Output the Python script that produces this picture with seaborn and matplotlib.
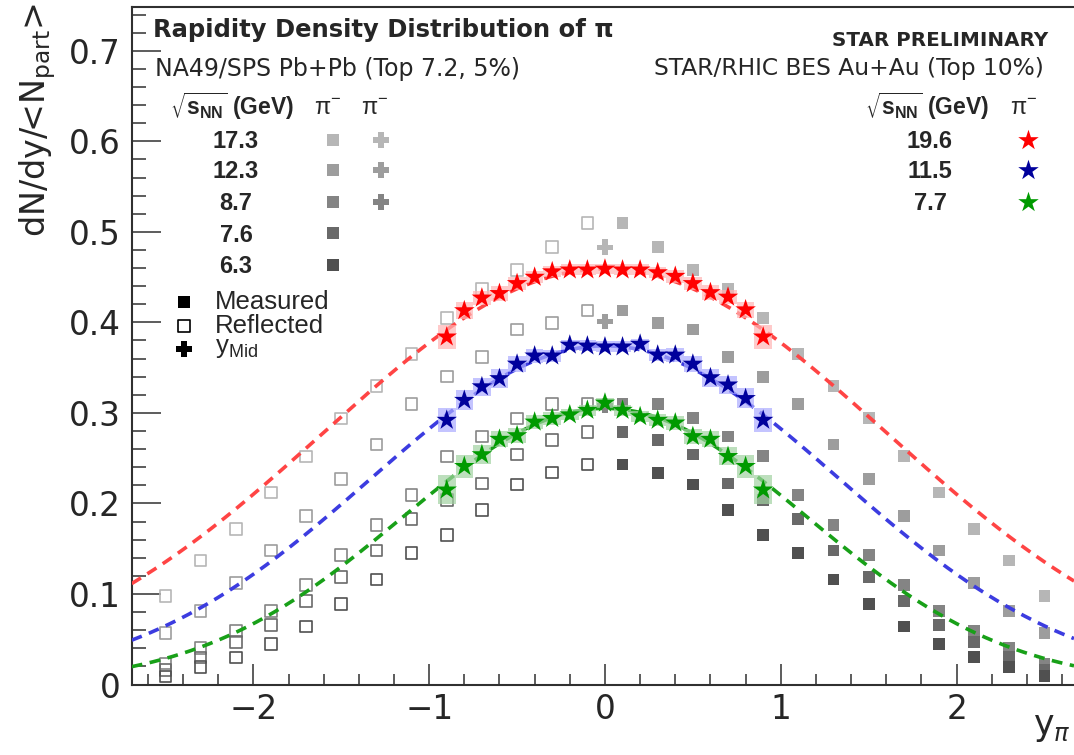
import numpy as np
import pandas as pd
import matplotlib
matplotlib.use("Agg")
import matplotlib.pyplot as plt
import seaborn as sns
from matplotlib.ticker import MultipleLocator, FuncFormatter

# ---------------- data ----------------
# NA49/SPS Pb+Pb pi- dN/dy/<Npart>, measured at forward rapidity
na49_rapidity = [0.1, 0.3, 0.5, 0.7, 0.9, 1.1, 1.3, 1.5, 1.7, 1.9, 2.1, 2.3, 2.5]
na49_energies = ["17.3", "12.3", "8.7", "7.6", "6.3"]
na49_17p3 = [0.510, 0.483, 0.458, 0.437, 0.405, 0.365, 0.330, 0.294, 0.252, 0.212, 0.172, 0.137, 0.098]
na49_12p3 = [0.413, 0.399, 0.392, 0.362, 0.340, 0.310, 0.265, 0.227, 0.186, 0.148, 0.112, 0.081, 0.057]
na49_8p7 = [0.310, 0.310, 0.294, 0.274, 0.252, 0.209, 0.176, 0.143, 0.110, 0.081, 0.059, 0.040, 0.023]
na49_7p6 = [0.279, 0.270, 0.254, 0.222, 0.204, 0.183, 0.148, 0.119, 0.092, 0.066, 0.047, 0.030, 0.016]
na49_6p3 = [0.243, 0.234, 0.221, 0.193, 0.165, 0.145, 0.116, 0.089, 0.064, 0.045, 0.030, 0.019, 0.009]

# NA49 values at mid-rapidity
na49_ymid_energies = ["17.3", "12.3", "8.7"]
na49_ymid_values = [0.483, 0.401, 0.308]

# STAR/RHIC BES Au+Au pi- dN/dy/<Npart> with systematic uncertainties
star_rapidity = [-0.9, -0.8, -0.7, -0.6, -0.5, -0.4, -0.3, -0.2, -0.1, 0.0,
                 0.1, 0.2, 0.3, 0.4, 0.5, 0.6, 0.7, 0.8, 0.9]
star_energies = ["19.6", "11.5", "7.7"]
star_19p6 = [0.384, 0.413, 0.427, 0.432, 0.443, 0.450, 0.456, 0.458, 0.458, 0.459,
             0.458, 0.458, 0.455, 0.451, 0.443, 0.433, 0.428, 0.414, 0.384]
star_11p5 = [0.292, 0.314, 0.329, 0.338, 0.354, 0.363, 0.363, 0.375, 0.374, 0.373,
             0.373, 0.376, 0.364, 0.364, 0.354, 0.339, 0.331, 0.316, 0.292]
star_7p7 = [0.215, 0.241, 0.254, 0.271, 0.275, 0.290, 0.294, 0.298, 0.303, 0.311,
            0.303, 0.296, 0.292, 0.289, 0.274, 0.271, 0.252, 0.241, 0.215]
star_19p6_sys = [0.013, 0.009, 0.008, 0.008, 0.007, 0.007, 0.006, 0.006, 0.006, 0.006,
                 0.006, 0.006, 0.006, 0.007, 0.007, 0.008, 0.008, 0.009, 0.013]
star_11p5_sys = [0.013, 0.011, 0.010, 0.010, 0.009, 0.008, 0.007, 0.006, 0.006, 0.006,
                 0.006, 0.006, 0.007, 0.008, 0.009, 0.010, 0.010, 0.011, 0.013]
star_7p7_sys = [0.016, 0.013, 0.010, 0.009, 0.008, 0.008, 0.007, 0.006, 0.006, 0.006,
                0.006, 0.006, 0.007, 0.008, 0.008, 0.009, 0.010, 0.013, 0.016]

# Gaussian fits to the STAR points
fit_amplitude = [0.459, 0.374, 0.305]
fit_sigma = [1.60, 1.335, 1.15]

# ---------------- styling ----------------
na49_colors = {"17.3": "#b6b6b6", "12.3": "#9d9d9d", "8.7": "#848484",
               "7.6": "#696969", "6.3": "#505050"}
star_colors = {"19.6": "#ff0000", "11.5": "#00009c", "7.7": "#009a00"}
fit_colors = {"19.6": "#ff4444", "11.5": "#3c3ce0", "7.7": "#18a018"}
sys_colors = {"19.6": "#ffb4b4", "11.5": "#acacff", "7.7": "#a2d2a2"}

SQ = 72      # filled square size
SQ_OPEN = 70
CROSS = 125
STAR = 240

sns.set_theme(style="ticks")
plt.rcParams["font.family"] = ["DejaVu Sans"]
plt.rcParams["mathtext.fontset"] = "dejavusans"
LEG_FONT = ["Liberation Sans", "DejaVu Sans"]

W, H = 1074, 755
fig = plt.figure(figsize=(W / 100, H / 100), dpi=100)
AX_L, AX_R, AX_T, AX_B = 131.7, 1074.0, 7.3, 684.5
ax = fig.add_axes([AX_L / W, 1 - AX_B / H, (AX_R - AX_L) / W, (AX_B - AX_T) / H])
xlim = (-2.692, 2.668)
ax.set_xlim(*xlim)
ax.set_ylim(0, 0.748)


def fx(px):
    return px / W


def fy(py):
    return 1 - py / H


def axx(px):
    return (px - AX_L) / (AX_R - AX_L)


def axy(py):
    return (AX_B - py) / (AX_B - AX_T)


# ---------------- NA49 points ----------------
na49_table = {"17.3": na49_17p3, "12.3": na49_12p3, "8.7": na49_8p7,
              "7.6": na49_7p6, "6.3": na49_6p3}
meas = pd.concat([pd.DataFrame({"y": na49_rapidity, "dndy": na49_table[e], "energy": e})
                  for e in na49_energies], ignore_index=True)
refl = meas.assign(y=-meas["y"])

sns.scatterplot(data=meas, x="y", y="dndy", hue="energy", palette=na49_colors,
                marker="s", s=SQ, linewidth=0, legend=False, ax=ax, zorder=2)
sns.scatterplot(data=refl, x="y", y="dndy", hue="energy", palette=na49_colors,
                marker="s", s=SQ_OPEN, legend=False, ax=ax, zorder=2)
hollow = ax.collections[-1]
edge = hollow.get_facecolors()
hollow.set_facecolor("none")
hollow.set_edgecolor(edge)
hollow.set_linewidth(1.2)

ymid = pd.DataFrame({"y": 0.0, "dndy": na49_ymid_values, "energy": na49_ymid_energies})
sns.scatterplot(data=ymid, x="y", y="dndy", hue="energy", palette=na49_colors,
                marker="P", s=CROSS, linewidth=0, legend=False, ax=ax, zorder=2)

# ---------------- STAR fits, systematics and points ----------------
grid = np.linspace(xlim[0], xlim[1], 500)
for e, a, sg in zip(star_energies, fit_amplitude, fit_sigma):
    sns.lineplot(x=grid, y=a * np.exp(-grid ** 2 / (2 * sg ** 2)), color=fit_colors[e],
                 lw=2.6, linestyle=(0, (3.0, 2.1)), sort=False, ax=ax, zorder=3)

star_table = {"19.6": (star_19p6, star_19p6_sys), "11.5": (star_11p5, star_11p5_sys),
              "7.7": (star_7p7, star_7p7_sys)}
for e in star_energies:
    vals, sys = np.array(star_table[e][0]), np.array(star_table[e][1])
    ax.bar(star_rapidity, 2 * sys, bottom=vals - sys, width=0.1,
           color=sys_colors[e], alpha=0.7, linewidth=0, zorder=4)

star = pd.concat([pd.DataFrame({"y": star_rapidity, "dndy": star_table[e][0], "energy": e})
                  for e in star_energies], ignore_index=True)
sns.scatterplot(data=star, x="y", y="dndy", hue="energy", palette=star_colors,
                marker="*", s=STAR, linewidth=0, legend=False, ax=ax, zorder=5)

# ---------------- axes ----------------
ax.set_xlabel("")
ax.set_ylabel("")
for side in ("left", "bottom", "top"):
    ax.spines[side].set_linewidth(1.5)
    ax.spines[side].set_color("#303030")
ax.spines["right"].set_visible(False)
ax.xaxis.set_major_locator(MultipleLocator(1))
ax.xaxis.set_minor_locator(MultipleLocator(0.2))
ax.yaxis.set_major_locator(MultipleLocator(0.1))
ax.yaxis.set_minor_locator(MultipleLocator(0.02))
ax.yaxis.set_major_formatter(FuncFormatter(lambda v, _: "0" if abs(v) < 1e-9 else f"{v:.1f}"))
ax.tick_params(which="both", direction="in", color="#303030", width=1.1,
               top=False, right=False, labelsize=23.5)
ax.tick_params(axis="y", which="major", length=21, pad=8)
ax.tick_params(axis="y", which="minor", length=10)
ax.tick_params(axis="x", which="major", length=15, pad=6)
ax.tick_params(axis="x", which="minor", length=8)

fig.text(fx(38), fy(3), r"dN/dy/<N$_{\mathregular{part}}$>", rotation=90,
         ha="center", va="top", size=24)
fig.text(fx(1071), fy(735), r"y$_{\pi}$", ha="right", va="baseline", size=25)

# ---------------- annotations ----------------
fig.text(fx(153), fy(37.5), "Rapidity Density Distribution of π", weight="bold",
         size=17.5, va="baseline")
fig.text(fx(155), fy(76), "NA49/SPS Pb+Pb (Top 7.2, 5%)", size=17, va="baseline")
fig.text(fx(1048), fy(46), "STAR PRELIMINARY", weight="bold", size=14.3,
         ha="right", va="baseline")
fig.text(fx(1044), fy(75), "STAR/RHIC BES Au+Au (Top 10%)", size=16.8,
         ha="right", va="baseline")

sqrt_label = r"$\sqrt{\mathregular{s}_{\mathregular{NN}}}$ (GeV)"
pim_label = r"π$^{\mathregular{-}}$"

# NA49 key
ax.text(axx(170), axy(115), sqrt_label, transform=ax.transAxes, family=LEG_FONT,
        weight="bold", size=16.5, va="baseline")
for cx in (328, 375):
    ax.text(axx(cx), axy(115), pim_label, transform=ax.transAxes, family=LEG_FONT,
            size=17, ha="center", va="baseline")
na49_rows = [140, 170, 202, 233, 265]
for e, ry in zip(na49_energies, na49_rows):
    ax.text(axx(236), axy(ry + 8.5), e, transform=ax.transAxes, family=LEG_FONT,
            weight="bold", size=17, ha="center", va="baseline")
    ax.scatter([axx(333)], [axy(ry)], transform=ax.transAxes, marker="s", s=SQ,
               color=na49_colors[e], linewidth=0, clip_on=False, zorder=6)
    if e in na49_ymid_energies:
        ax.scatter([axx(381)], [axy(ry)], transform=ax.transAxes, marker="P", s=CROSS,
                   color=na49_colors[e], linewidth=0, clip_on=False, zorder=6)

ax.scatter([axx(184)], [axy(302)], transform=ax.transAxes, marker="s", s=SQ,
           color="black", linewidth=0, zorder=6)
ax.scatter([axx(184)], [axy(326)], transform=ax.transAxes, marker="s", s=SQ_OPEN,
           facecolor="none", edgecolor="black", linewidth=1.2, zorder=6)
ax.scatter([axx(184)], [axy(349)], transform=ax.transAxes, marker="P", s=CROSS,
           color="black", linewidth=0, zorder=6)
ax.text(axx(215), axy(309), "Measured", transform=ax.transAxes, family=LEG_FONT,
        size=18.5, va="baseline")
ax.text(axx(215), axy(333), "Reflected", transform=ax.transAxes, family=LEG_FONT,
        size=18.5, va="baseline")
ax.text(axx(215), axy(353), r"y$_{\mathregular{Mid}}$", transform=ax.transAxes,
        family=LEG_FONT, size=18.5, va="baseline")

# STAR key
ax.text(axx(865), axy(115), sqrt_label, transform=ax.transAxes, family=LEG_FONT,
        weight="bold", size=16.5, va="baseline")
ax.text(axx(1024), axy(115), pim_label, transform=ax.transAxes, family=LEG_FONT,
        size=17, ha="center", va="baseline")
star_rows = [140, 170, 202]
for e, ry in zip(star_energies, star_rows):
    ax.text(axx(930), axy(ry + 8.5), e, transform=ax.transAxes, family=LEG_FONT,
            weight="bold", size=17, ha="center", va="baseline")
    ax.scatter([axx(1028)], [axy(ry)], transform=ax.transAxes, marker="*", s=STAR,
               color=star_colors[e], linewidth=0, zorder=6)

fig.savefig("out.png", dpi=100)
